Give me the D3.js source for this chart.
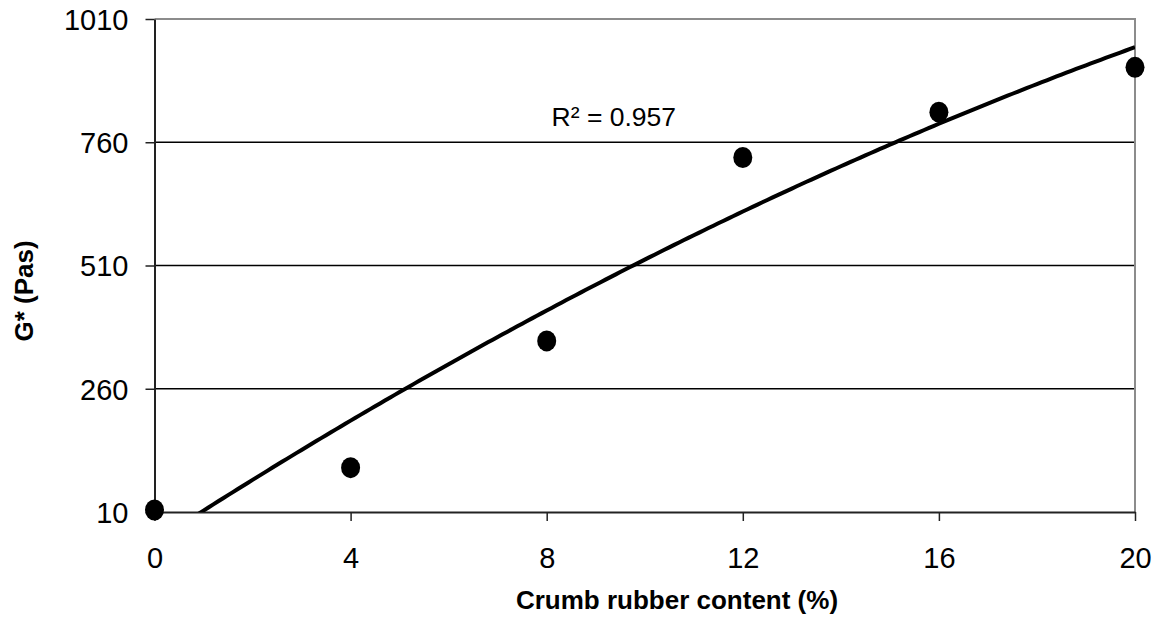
<!DOCTYPE html>
<html lang="en">
<head>
<meta charset="UTF-8">
<title>G* vs crumb rubber content</title>
<script src="https://d3js.org/d3.v7.min.js"></script>
<style>
    body { margin: 0; background: #fff; font-family: "Liberation Sans", Arial, sans-serif; }
    .tick text { font-size: 29px; fill: #000; }
    .axis-title { font-size: 26px; font-weight: bold; }
</style>
</head>
<body>
<div id="chart"></div>
<script>
    // values
    const rubberContent = [0, 4, 8, 12, 16, 20];
    const gStar = [14, 100, 357, 729, 821, 912];
    const xTicks = [0, 4, 8, 12, 16, 20];
    const yTicks = [10, 260, 510, 760, 1010];
    const r2Label = "R\u00B2 = 0.957";

    const W = 1158, H = 620;
    const margin = { top: 19, right: 23, bottom: 108, left: 154.5 };
    const width = W - margin.left - margin.right;
    const height = H - margin.top - margin.bottom;

    const svg = d3.select("#chart").append("svg")
        .attr("width", W).attr("height", H);
    const g = svg.append("g")
        .attr("transform", `translate(${margin.left},${margin.top})`);

    const x = d3.scaleLinear().domain([0, 20]).range([0, width]);
    const y = d3.scaleLinear().domain([10, 1010]).range([height, 0]);

    // gridlines
    g.selectAll(".grid").data(yTicks.slice(1, -1)).enter().append("line")
        .attr("x1", 0).attr("x2", width)
        .attr("y1", d => y(d)).attr("y2", d => y(d))
        .attr("stroke", "#000").attr("stroke-width", 1.5);

    // top and right border (grey)
    g.append("path")
        .attr("d", `M0,${y(1010)}H${width}V${height}`)
        .attr("fill", "none").attr("stroke", "#8c8c8c").attr("stroke-width", 2);

    // axes
    const xAxis = g.append("g")
        .attr("transform", `translate(0,${height})`)
        .call(d3.axisBottom(x).tickValues(xTicks).tickFormat(d3.format("d"))
            .tickSize(9).tickPadding(26).tickSizeOuter(0));
    const yAxis = g.append("g")
        .call(d3.axisLeft(y).tickValues(yTicks).tickFormat(d3.format("d"))
            .tickSize(9).tickPadding(17).tickSizeOuter(0));
    [xAxis, yAxis].forEach(a => {
        a.select(".domain").attr("stroke", "#222").attr("stroke-width", 2);
        a.selectAll(".tick line").attr("stroke", "#222").attr("stroke-width", 1.5);
        a.selectAll(".tick text").attr("font-family", "Liberation Sans, Arial, sans-serif");
    });
    xAxis.selectAll(".tick text").attr("dy", "0.72em");
    yAxis.selectAll(".tick text").attr("dy", "0.36em");

    // quadratic least-squares trend, computed from the points
    function quadFit(xs, ys) {
        const n = xs.length;
        const S = k => d3.sum(xs, v => Math.pow(v, k));
        const T = k => d3.sum(xs, (v, i) => Math.pow(v, k) * ys[i]);
        const A = [[n, S(1), S(2)], [S(1), S(2), S(3)], [S(2), S(3), S(4)]];
        const b = [T(0), T(1), T(2)];
        for (let i = 0; i < 3; i++) {
            for (let j = i + 1; j < 3; j++) {
                const f = A[j][i] / A[i][i];
                for (let k = i; k < 3; k++) A[j][k] -= f * A[i][k];
                b[j] -= f * b[i];
            }
        }
        const c = [0, 0, 0];
        for (let i = 2; i >= 0; i--) {
            let s = b[i];
            for (let k = i + 1; k < 3; k++) s -= A[i][k] * c[k];
            c[i] = s / A[i][i];
        }
        return c;
    }
    const coef = quadFit(rubberContent, gStar);
    const trend = d3.range(0, 20.001, 0.1).map(v => [v, coef[0] + coef[1] * v + coef[2] * v * v]);

    svg.append("defs").append("clipPath").attr("id", "plot-clip")
        .append("rect").attr("width", width).attr("height", height);

    g.append("path")
        .datum(trend)
        .attr("clip-path", "url(#plot-clip)")
        .attr("fill", "none").attr("stroke", "#000").attr("stroke-width", 4)
        .attr("d", d3.line().x(d => x(d[0])).y(d => y(d[1])));

    // data points
    g.selectAll(".pt").data(rubberContent).enter().append("ellipse")
        .attr("cx", d => x(d))
        .attr("cy", (d, i) => y(gStar[i]))
        .attr("rx", 9.5).attr("ry", 10.5)
        .attr("fill", "#000");

    // R² label
    g.append("text")
        .attr("x", x(8.1)).attr("y", y(793))
        .attr("font-size", 26.5)
        .text(r2Label);

    // axis titles
    svg.append("text").attr("class", "axis-title")
        .attr("x", 677).attr("y", 609)
        .attr("text-anchor", "middle")
        .text("Crumb rubber content (%)");
    svg.append("text").attr("class", "axis-title")
        .attr("transform", "translate(33,291) rotate(-90)")
        .attr("text-anchor", "middle")
        .text("G* (Pas)");
</script>
</body>
</html>
